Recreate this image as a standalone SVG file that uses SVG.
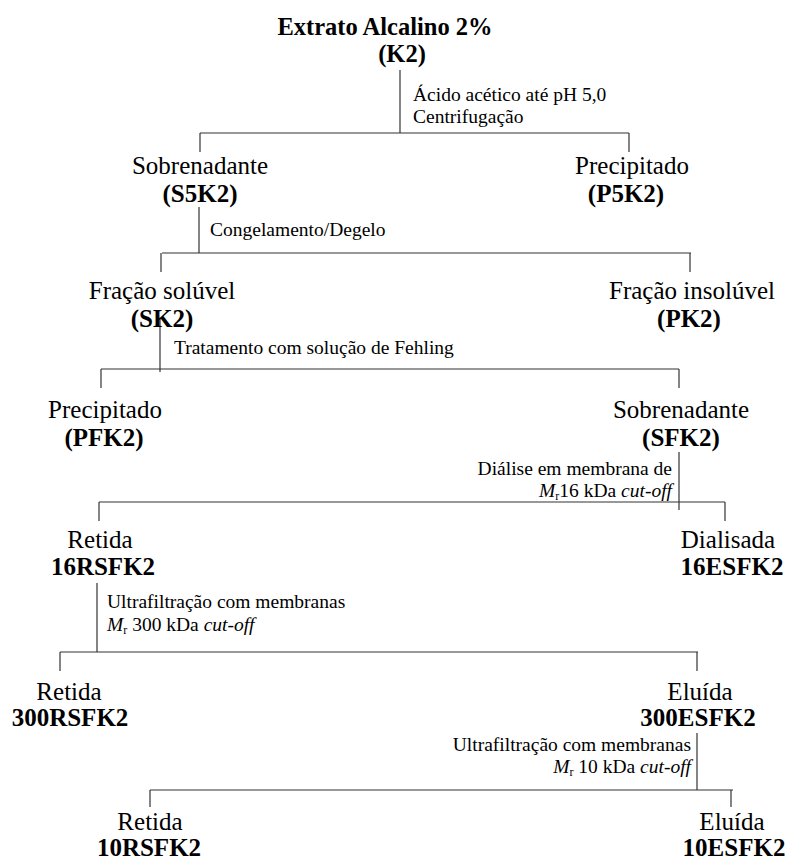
<svg xmlns="http://www.w3.org/2000/svg" width="787" height="860" viewBox="0 0 787 860">
<style>
text{font-family:"Liberation Serif","Times New Roman",serif;fill:#000}
.lab{font-size:25px;text-anchor:middle}
.id{font-size:25px;font-weight:bold;text-anchor:middle}
.ann{font-size:19.5px}
.end{text-anchor:end}
.it{font-style:italic}
.sub{font-size:12px}
line{stroke:#333;stroke-width:1.2}
</style>
<rect width="787" height="860" fill="#fff"/>
<g id="connectors">
<line x1="400" y1="70" x2="400" y2="133"/>
<line x1="200" y1="133" x2="629" y2="133"/>
<line x1="200" y1="133" x2="200" y2="152"/>
<line x1="629" y1="133" x2="629" y2="152"/>
<line x1="199" y1="207" x2="199" y2="253"/>
<line x1="162" y1="253" x2="691" y2="253"/>
<line x1="161" y1="253" x2="161" y2="272"/>
<line x1="690" y1="253" x2="690" y2="272"/>
<line x1="160" y1="318" x2="160" y2="372"/>
<line x1="101" y1="369" x2="679" y2="369"/>
<line x1="101" y1="369" x2="101" y2="388"/>
<line x1="679" y1="369" x2="679" y2="388"/>
<line x1="679" y1="452" x2="679" y2="510"/>
<line x1="99" y1="502" x2="725" y2="502"/>
<line x1="99" y1="502" x2="99" y2="521"/>
<line x1="725" y1="502" x2="725" y2="521"/>
<line x1="97" y1="583" x2="97" y2="652"/>
<line x1="60" y1="652" x2="698" y2="652"/>
<line x1="60" y1="652" x2="60" y2="671"/>
<line x1="697" y1="652" x2="697" y2="671"/>
<line x1="697" y1="733" x2="697" y2="790"/>
<line x1="150" y1="790" x2="733" y2="790"/>
<line x1="150" y1="790" x2="150" y2="807"/>
<line x1="731" y1="790" x2="731" y2="807"/>
</g>
<g id="k2">
<text x="385" y="35" class="id" style="font-size:24.5px">Extrato Alcalino 2%</text>
<text x="402" y="62" class="id" style="font-size:24.5px">(K2)</text>
</g>
<g id="step1">
<text x="413" y="101" class="ann">Ácido acético até pH 5,0</text>
<text x="413" y="123" class="ann">Centrifugação</text>
</g>
<g id="s5k2">
<text x="200" y="174" class="lab">Sobrenadante</text>
<text x="200" y="202" class="id">(S5K2)</text>
</g>
<g id="p5k2">
<text x="632" y="174" class="lab">Precipitado</text>
<text x="626" y="202" class="id">(P5K2)</text>
</g>
<g id="step2">
<text x="210" y="236" class="ann">Congelamento/Degelo</text>
</g>
<g id="sk2">
<text x="162" y="299" class="lab">Fração solúvel</text>
<text x="162" y="327" class="id">(SK2)</text>
</g>
<g id="pk2">
<text x="692" y="299" class="lab">Fração insolúvel</text>
<text x="689" y="327" class="id">(PK2)</text>
</g>
<g id="step3">
<text x="174" y="354" class="ann">Tratamento com solução de Fehling</text>
</g>
<g id="pfk2">
<text x="105" y="418" class="lab">Precipitado</text>
<text x="104" y="446" class="id">(PFK2)</text>
</g>
<g id="sfk2">
<text x="681" y="418" class="lab">Sobrenadante</text>
<text x="681" y="446" class="id">(SFK2)</text>
</g>
<g id="step4">
<text x="672" y="475" class="ann end">Diálise em membrana de</text>
<text x="672" y="497" class="ann end"><tspan class="it">M</tspan><tspan class="sub" dy="3">r</tspan><tspan dy="-3">16 kDa </tspan><tspan class="it">cut-off</tspan></text>
</g>
<g id="r16">
<text x="100" y="548" class="lab">Retida</text>
<text x="103" y="575" class="id">16RSFK2</text>
</g>
<g id="e16">
<text x="728" y="548" class="lab">Dialisada</text>
<text x="732" y="575" class="id">16ESFK2</text>
</g>
<g id="step5">
<text x="107" y="608" class="ann">Ultrafiltração com membranas</text>
<text x="107" y="631" class="ann"><tspan class="it">M</tspan><tspan class="sub" dy="3">r</tspan><tspan dy="-3"> 300 kDa </tspan><tspan class="it">cut-off</tspan></text>
</g>
<g id="r300">
<text x="69" y="700" class="lab">Retida</text>
<text x="70" y="726" class="id">300RSFK2</text>
</g>
<g id="e300">
<text x="700" y="700" class="lab">Eluída</text>
<text x="698" y="726" class="id">300ESFK2</text>
</g>
<g id="step6">
<text x="691" y="751" class="ann end">Ultrafiltração com membranas</text>
<text x="691" y="773" class="ann end"><tspan class="it">M</tspan><tspan class="sub" dy="3">r</tspan><tspan dy="-3"> 10 kDa </tspan><tspan class="it">cut-off</tspan></text>
</g>
<g id="r10">
<text x="150" y="830" class="lab">Retida</text>
<text x="149" y="856" class="id">10RSFK2</text>
</g>
<g id="e10">
<text x="732" y="830" class="lab">Eluída</text>
<text x="734" y="856" class="id">10ESFK2</text>
</g>
</svg>
